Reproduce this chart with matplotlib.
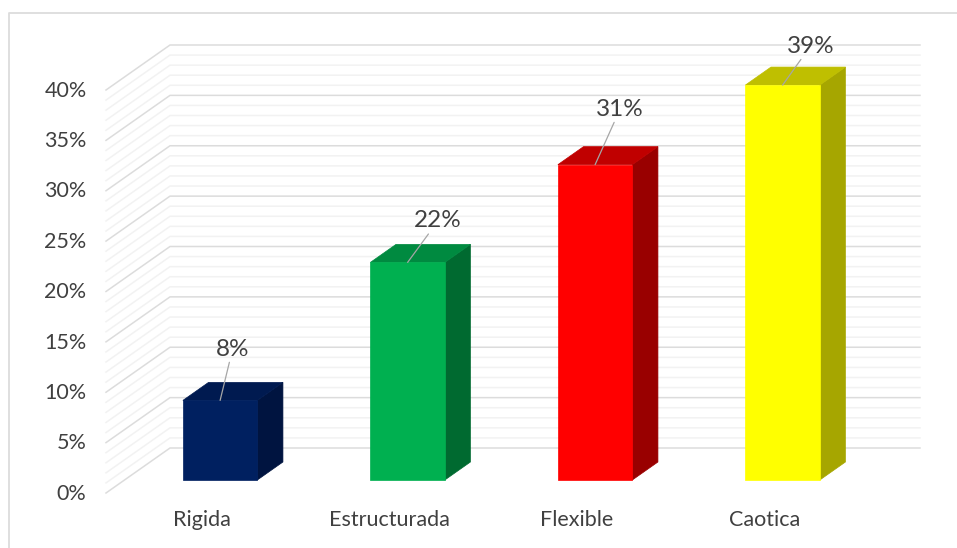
import numpy as np
import matplotlib
matplotlib.use("Agg")
import matplotlib.pyplot as plt
from matplotlib.lines import Line2D
from matplotlib.patches import Polygon

categorias = ["Rigida", "Estructurada", "Flexible", "Caotica"]
valores = [7.9, 21.6, 31.3, 39.2]
etiquetas = ["8%", "22%", "31%", "39%"]
ticks = [0, 5, 10, 15, 20, 25, 30, 35, 40]
tick_labels = ["0%", "5%", "10%", "15%", "20%", "25%", "30%", "35%", "40%"]

frente = ["#002060", "#00b050", "#ff0000", "#ffff00"]
lado = ["#001440", "#006a30", "#990000", "#a6a600"]
tapa = ["#001a50", "#008a40", "#c00000", "#bfbf00"]
# desplazamiento de la etiqueta respecto a la tapa (puntos)
offs = [(9, 37), (22, 30), (18, 40), (20, 28)]

W, H = 957, 548
plt.rcParams['font.family'] = ['Lato', 'DejaVu Sans']
fig = plt.figure(figsize=(W / 100, H / 100), dpi=100)
ax = fig.add_axes([106 / W, 1 - 493 / H, 750 / W, 403 / H])
ax.set_xlim(-0.51, 3.49)
ax.set_ylim(0, 40)
ax.axis("off")

# frame of the picture: only top and left are visible
fig.add_artist(Line2D([9 / W, 9 / W, 1], [0, 1 - 13 / H, 1 - 13 / H], transform=fig.transFigure,
                      color="#dcdcdc", lw=1.3))

# oblique projection, depth is in pixels of vertical shift
px_x = 4.0 / 750
px_y = 40 / 403


def proj(x, y, d):
    return x + d * (64 / 45) * px_x, y + d * px_y


prof_pared = 45
x0, x1 = ax.get_xlim()

for v in np.arange(0, 41, 1):
    mayor = v % 5 == 0
    c = "#dcdcdc" if mayor else "#f2f2f2"
    a = (x0, v)
    b = proj(x0, v, prof_pared)
    e = proj(x1, v, prof_pared)
    ax.plot([a[0], b[0], e[0]], [a[1], b[1], e[1]], color=c, lw=1.1, clip_on=False, zorder=2 if mayor else 1)

# bars
ancho = 0.397
d0, d1 = 13, 31
for i, v in enumerate(valores):
    l, r = i - ancho / 2, i + ancho / 2
    f = [proj(l, 0, d0), proj(r, 0, d0), proj(r, v, d0), proj(l, v, d0)]
    s = [proj(r, 0, d0), proj(r, 0, d1), proj(r, v, d1), proj(r, v, d0)]
    t = [proj(l, v, d0), proj(r, v, d0), proj(r, v, d1), proj(l, v, d1)]
    ax.add_patch(Polygon(s, fc=lado[i], ec=lado[i], lw=0.5, clip_on=False, zorder=3))
    ax.add_patch(Polygon(t, fc=tapa[i], ec=tapa[i], lw=0.5, clip_on=False, zorder=3))
    ax.add_patch(Polygon(f, fc=frente[i], ec=frente[i], lw=0.5, clip_on=False, zorder=4))
    ax.annotate(etiquetas[i], xy=proj(i, v, d0), xytext=offs[i], textcoords="offset points",
                ha="center", va="center", fontsize=17.5, color="#404040",
                arrowprops=dict(arrowstyle="-", color="#a6a6a6", lw=0.9, shrinkA=0, shrinkB=0),
                annotation_clip=False, zorder=5)
    ax.annotate(categorias[i], xy=(i, 0), xytext=(0, -19.5), textcoords="offset points",
                ha="center", va="center", fontsize=15.5, color="#404040", annotation_clip=False)

for v, s in zip(ticks, tick_labels):
    ax.annotate(s, xy=(x0, v), xytext=(-14, -0.5), textcoords="offset points", ha="right",
                va="center", fontsize=15.5, color="#404040", annotation_clip=False)

fig.savefig("out.png", dpi=100)
